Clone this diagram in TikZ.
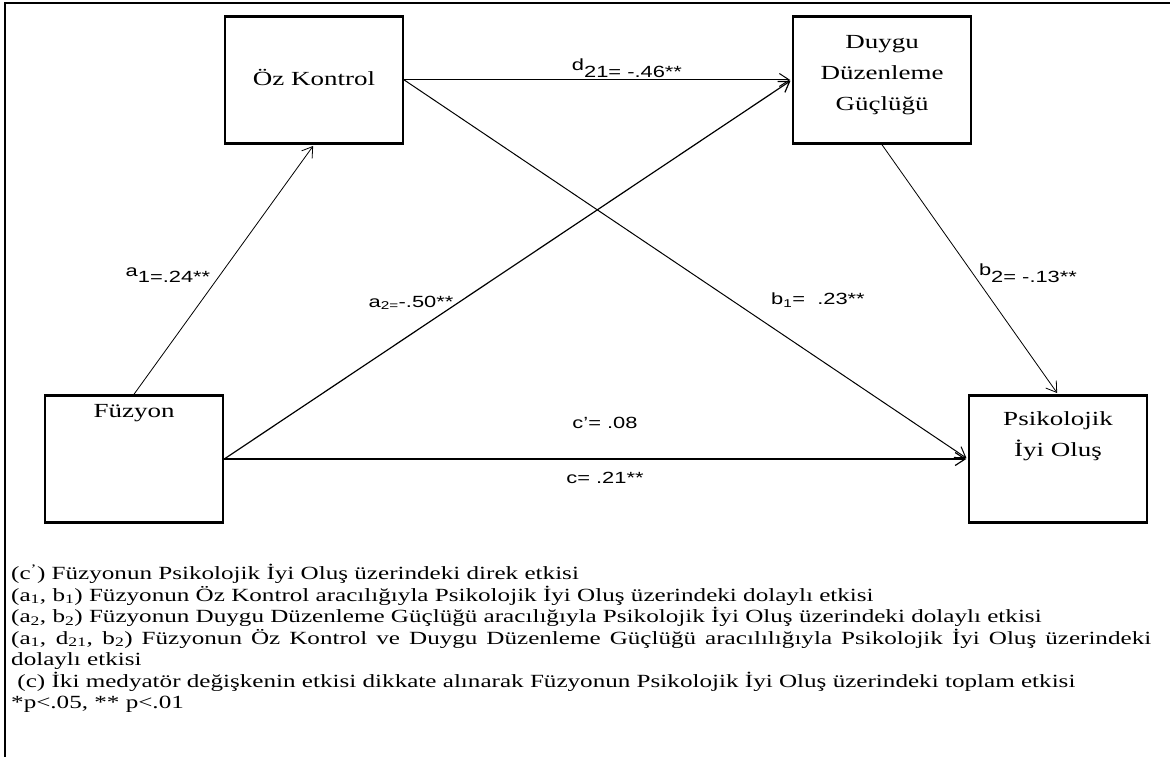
\documentclass[tikz,border=0pt]{standalone}
\usepackage{fontspec}
\setmainfont{Liberation Serif}[FakeStretch=1.35]
\newfontfamily\arialfont{Liberation Sans}[FakeStretch=1.35]
\usetikzlibrary{arrows.meta}
\setlength{\parindent}{0pt}
\setlength{\parskip}{0pt}

\newcommand{\raisedvar}[1]{\raisebox{0.4em}{#1}}

\tikzset{
  varbox/.style={draw, line width=2.5pt, minimum width=178pt, minimum height=127pt, inner sep=0pt},
  boxtext/.style={font=\fontsize{20}{31}\selectfont, align=center, inner sep=0pt},
  effect/.style={-{Straight Barb[length=10pt,width=13pt]}, line width=1pt, shorten >=1.5pt},
  coef/.style={font=\arialfont\fontsize{16.2}{19}\selectfont, inner sep=0pt}
}

\begin{document}
\begin{tikzpicture}[x=1pt,y=-1pt]
    \useasboundingbox (0,0) rectangle (1170,757);
    \draw[line width=2pt] (1170,3) -- (5,3) -- (5,757);
    % variables
    \node[varbox] (oz) at (314,80) {};
    \node[varbox] (duy) at (882,80) {};
    \node[varbox] (fuz) at (134,459) {};
    \node[varbox] (psi) at (1058,459) {};
    \node[boxtext] (ozt) at ([yshift=3pt]oz.center) {Öz Kontrol};
    \node[boxtext] (duyt) at ([yshift=5pt]duy.center) {Duygu\\Düzenleme\\Güçlüğü};
    \node[boxtext] (fuzt) at ([yshift=46pt]fuz.center) {Füzyon};
    \node[boxtext] (psit) at ([yshift=23pt]psi.center) {Psikolojik\\İyi Oluş};
    % paths
    \draw[effect, line width=0.8pt] (fuz.north) -- (oz.south);
    \draw[effect] (oz.east) -- (duy.west);
    \draw[effect] (oz.east) -- (psi.west);
    \draw[effect, line width=1.2pt] (fuz.east) -- (duy.west);
    \draw[effect, line width=1.2pt] (fuz.east) -- (psi.west);
    \draw[effect, line width=0.8pt] (duy.south) -- (psi.north);
    % coefficients
    \node[coef] (d21) at (627,68) {\raisedvar{d}21= -.46**};
    \node[coef] (a1) at (168,275) {\raisedvar{a}1=.24**};
    \node[coef] (a2) at (411,303) {a\textsubscript{2=}-.50**};
    \node[coef] (b1) at (818,300) {b\textsubscript{1}=\ \ .23**};
    \node[coef] (b2) at (1028,273) {\raisedvar{b}2= -.13**};
    \node[coef] (cp) at (605,423) {c’= .08};
    \node[coef] (ct) at (605,478) {c= .21**};
    % notes
    \node[anchor=north west, text width=1140pt, align=justify, inner sep=0pt,
      font=\fontsize{18.6}{21.5}\selectfont] (note) at (11,564) {%
      (c\textsuperscript{'}) Füzyonun Psikolojik İyi Oluş üzerindeki direk etkisi\par
      (a\textsubscript{1}, b\textsubscript{1}) Füzyonun Öz Kontrol aracılığıyla Psikolojik İyi Oluş üzerindeki dolaylı etkisi\par
      (a\textsubscript{2}, b\textsubscript{2}) Füzyonun Duygu Düzenleme Güçlüğü aracılığıyla Psikolojik İyi Oluş üzerindeki dolaylı etkisi\par
      (a\textsubscript{1}, d\textsubscript{21}, b\textsubscript{2}) Füzyonun Öz Kontrol ve Duygu Düzenleme Güçlüğü aracılılığıyla Psikolojik İyi Oluş üzerindeki\linebreak dolaylı etkisi\par
      \ (c) İki medyatör değişkenin etkisi dikkate alınarak Füzyonun Psikolojik İyi Oluş üzerindeki toplam etkisi\par
      *p<.05, ** p<.01};
\end{tikzpicture}
\end{document}
